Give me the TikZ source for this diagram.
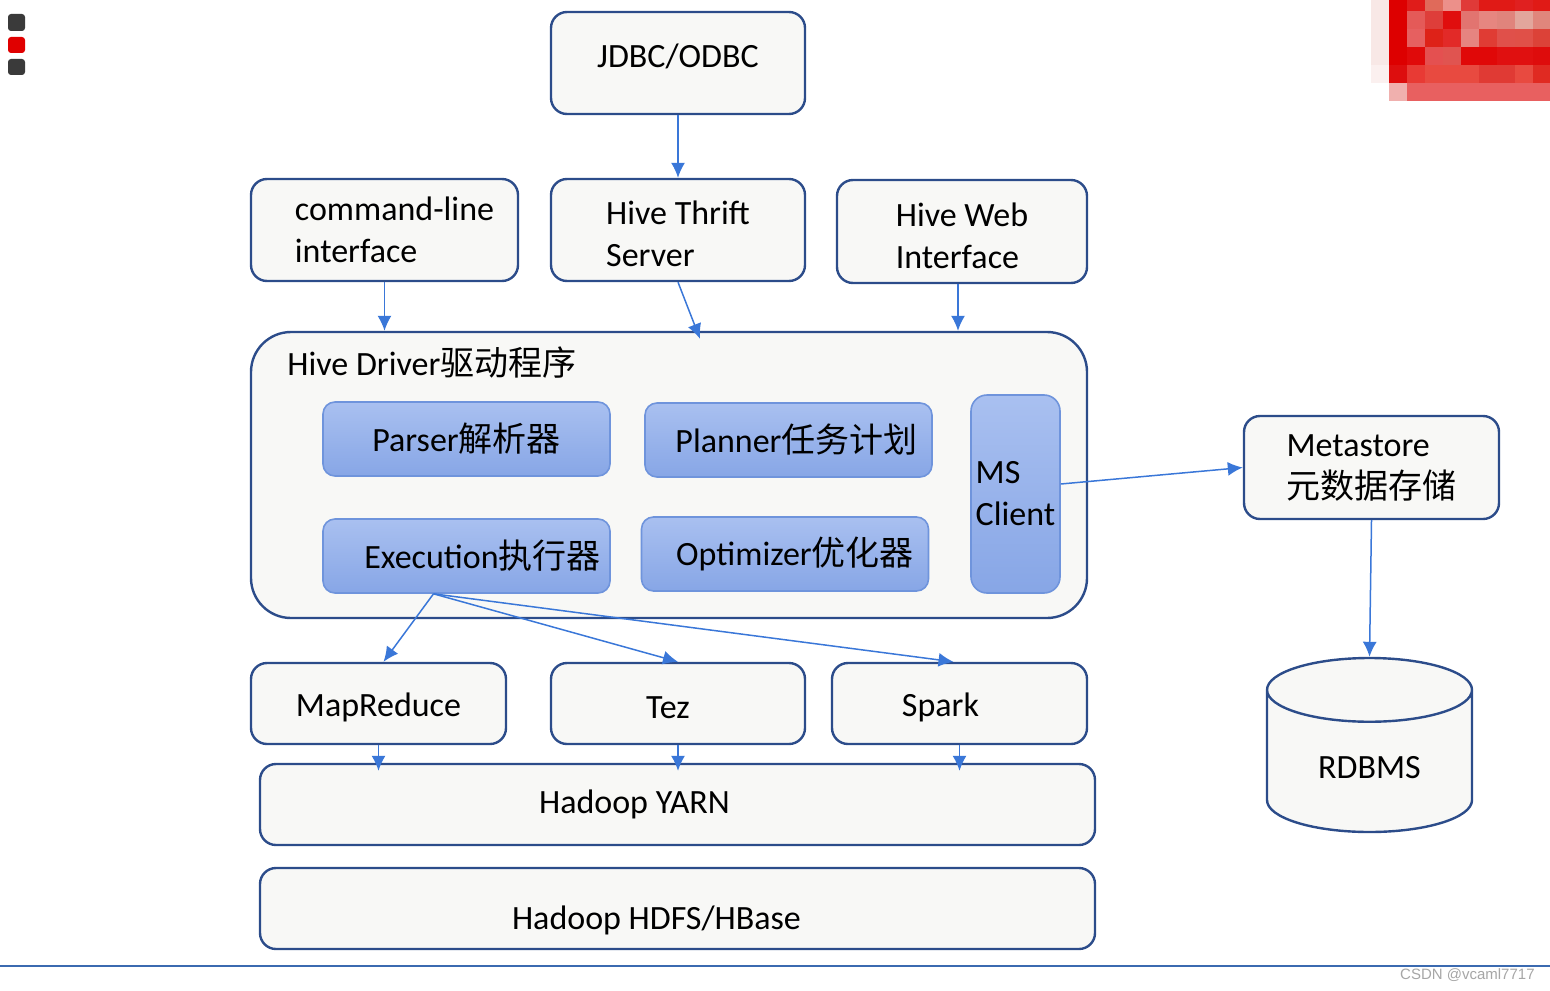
\documentclass[tikz,border=0pt]{standalone}
\usepackage{fontspec}
\setmainfont{Carlito}
\newfontfamily\cjk{Noto Sans CJK SC}
\newfontfamily\wmfont{Liberation Sans}
\usepackage{tikz}
\usetikzlibrary{arrows.meta, shapes.geometric, positioning}

\definecolor{boxline}{HTML}{2C4C8A}
\definecolor{boxfill}{HTML}{F8F8F6}
\definecolor{arrowblue}{HTML}{3A77D8}
\definecolor{modtop}{HTML}{A9C0F0}
\definecolor{modbot}{HTML}{87A6E6}
\definecolor{modline}{HTML}{6F94DC}
\definecolor{iconcol}{HTML}{3A3A3A}
\definecolor{iconred}{HTML}{E00000}
\definecolor{rulecol}{HTML}{3B6AB0}

\tikzset{
  box/.style={draw=boxline, fill=boxfill, line width=1.2pt, rounded corners=8pt,
    align=left, font=\fontsize{17}{21}\selectfont},
  module/.style={draw=modline, line width=0.8pt, rounded corners=6pt,
    top color=modtop, bottom color=modbot, minimum width=143.5pt,
    minimum height=37pt, font=\fontsize{17}{21}\selectfont},
  flow/.style={->, draw=arrowblue, line width=0.75pt},
}

\begin{document}
\begin{tikzpicture}[x=0.5pt, y=-0.5pt, >={Latex[length=7.5pt,width=7pt]}]
    \useasboundingbox (0,0) rectangle (1550,990);

    % window icons, top left
    \fill[iconcol, rounded corners=1.5pt] (8,14) rectangle (25,31);
    \fill[iconred, rounded corners=1.5pt] (8,37) rectangle (25,53);
    \fill[iconcol, rounded corners=1.5pt] (8,59) rectangle (25,75);

    % mosaic, top right
    \foreach \yy/\hh/\row in {
        0/11/{F8E8E6,DD0000,E01C1A,E06A5A,EC908A,E03A38,E01A16,E01A16,E02020,E01A16},
        11/18/{F8E8E6,DD0000,E45A58,DE3E3A,E00E0E,E27470,E68680,E0847C,E2A69C,E0867C},
        29/18/{F8E8E6,DD0000,E66060,DE2218,E22A28,E68480,E03C34,E0504A,E05048,DC4238},
        47/18/{F8E8E6,DD0000,E00A0A,E45050,E05450,E00808,E00808,E01010,E01010,DE0C0C},
        65/18/{FBF0EF,DD0E0E,E83A34,E84A40,E84A40,E84A40,E03A34,E03A34,E84A40,E02A22},
        83/18/{FFFFFF,F0B0AE,E86060,E86060,E86060,E86060,E86060,E86060,E86060,E86060}}{
        \foreach \c [count=\i from 0] in \row {
            \definecolor{mz}{HTML}{\c}
            \fill[mz] ({1371+18*\i},\yy) rectangle ({1389+18*\i},{\yy+\hh});
        }
    }

    % clients
    \node[box, minimum width=127pt, minimum height=51pt, text depth=7pt] (jdbc) at (678,63) {JDBC/ODBC};
    \node[box, minimum width=133.5pt, minimum height=51pt] (cmd) at (384.5,230) {\hspace*{10pt}command-line\\\hspace*{10pt}interface};
    \node[box, minimum width=127pt, minimum height=51pt] (thrift) at (678,230) {\raisebox{-2pt}[\height][\depth]{Hive Thrift}\\\raisebox{-2pt}[\height][\depth]{Server}};
    \node[box, minimum width=125pt, minimum height=51.5pt] (web) at (962,231.5) {\raisebox{-2pt}[\height][\depth]{Hive Web}\\\raisebox{-2pt}[\height][\depth]{Interface}};

    % driver
    \node[box, rounded corners=20pt, minimum width=418pt, minimum height=143pt] (driver) at (669,475) {};
    \node[anchor=west, inner sep=0pt, font=\fontsize{17}{21}\selectfont] (drvtitle) at (287,363) {Hive Driver{\cjk 驱动程序}};
    \node[module] (parser) at (466.5,439) {Parser{\cjk 解析器}};
    \node[module] (planner) at (788.5,440) {\hspace*{8pt}Planner{\cjk 任务计划}};
    \node[module] (exe) at (466.5,556) {\hspace*{16pt}Execution{\cjk 执行器}};
    \node[module] (opt) at (785,554) {\hspace*{10pt}Optimizer{\cjk 优化器}};
    \node[module, minimum width=44.5pt, minimum height=99pt, inner xsep=2pt, align=left, rounded corners=8pt] (msc) at (1015.5,494) {MS\\Client};

    % metastore
    \node[box, minimum width=127.5pt, minimum height=51.5pt] (meta) at (1371.5,467.5) {Metastore\\{\cjk 元数据存储}};
    \node[draw=boxline, fill=boxfill, line width=1.2pt, cylinder, shape border rotate=90, aspect=0.55,
        anchor=shape center, minimum width=102.5pt, minimum height=87pt,
        font=\fontsize{17}{21}\selectfont] (rdbms) at (1369.5,745) {RDBMS};

    % engines
    \node[box, minimum width=127.5pt, minimum height=40.5pt] (map) at (378.5,703.5) {\raisebox{-2pt}[\height][\depth]{MapReduce}};
    \node[box, minimum width=127pt, minimum height=40.5pt] (tez) at (678,703.5) {\hspace*{-10pt}\raisebox{-2pt}[\height][\depth]{Tez}};
    \node[box, minimum width=127.5pt, minimum height=40.5pt] (spark) at (959.5,703.5) {\hspace*{-19pt}\raisebox{-2pt}[\height][\depth]{Spark}};
    \node[box, minimum width=417.5pt, minimum height=40.5pt] (yarn) at (677.5,804.5) {\hspace*{-43pt}Hadoop YARN};
    \node[box, minimum width=417.5pt, minimum height=40.5pt] (hdfs) at (677.5,908.5) {\hspace*{-21pt}\raisebox{-6pt}[\height][\depth]{Hadoop HDFS/HBase}};

    % arrows
    \draw[flow] (jdbc) -- (thrift);
    \draw[flow] (cmd.south) -- (cmd.south |- driver.north);
    \draw[flow] (thrift.south) -- ([xshift=11pt,yshift=-4pt]thrift.south |- driver.north);
    \draw[flow] ([xshift=-2pt]web.south) -- ([xshift=-2pt]web.south |- driver.north);
    \draw[flow] ([yshift=5pt]msc.east) -- (meta.west);
    \draw[flow] (meta.south) -- (rdbms.north);

    \coordinate (fork) at ([xshift=-16.5pt]exe.south);
    \draw[flow] (fork) -- ([xshift=2.5pt]map.north);
    \draw[flow] (fork) -- (tez.north);
    \draw[flow] (fork) -- ([xshift=-3pt]spark.north);
    \foreach \n in {map, tez, spark}
        \draw[flow] (\n.south) -- ([yshift=-4pt]\n.south |- yarn.north);

    % bottom rule and watermark
    \draw[rulecol, line width=1pt] (0,966) -- (1550,966);
    \node[anchor=east, inner sep=0pt, text=gray!70, font=\wmfont\fontsize{7.5}{9}\selectfont] (mark) at (1535,975) {CSDN @vcaml7717};
\end{tikzpicture}
\end{document}
